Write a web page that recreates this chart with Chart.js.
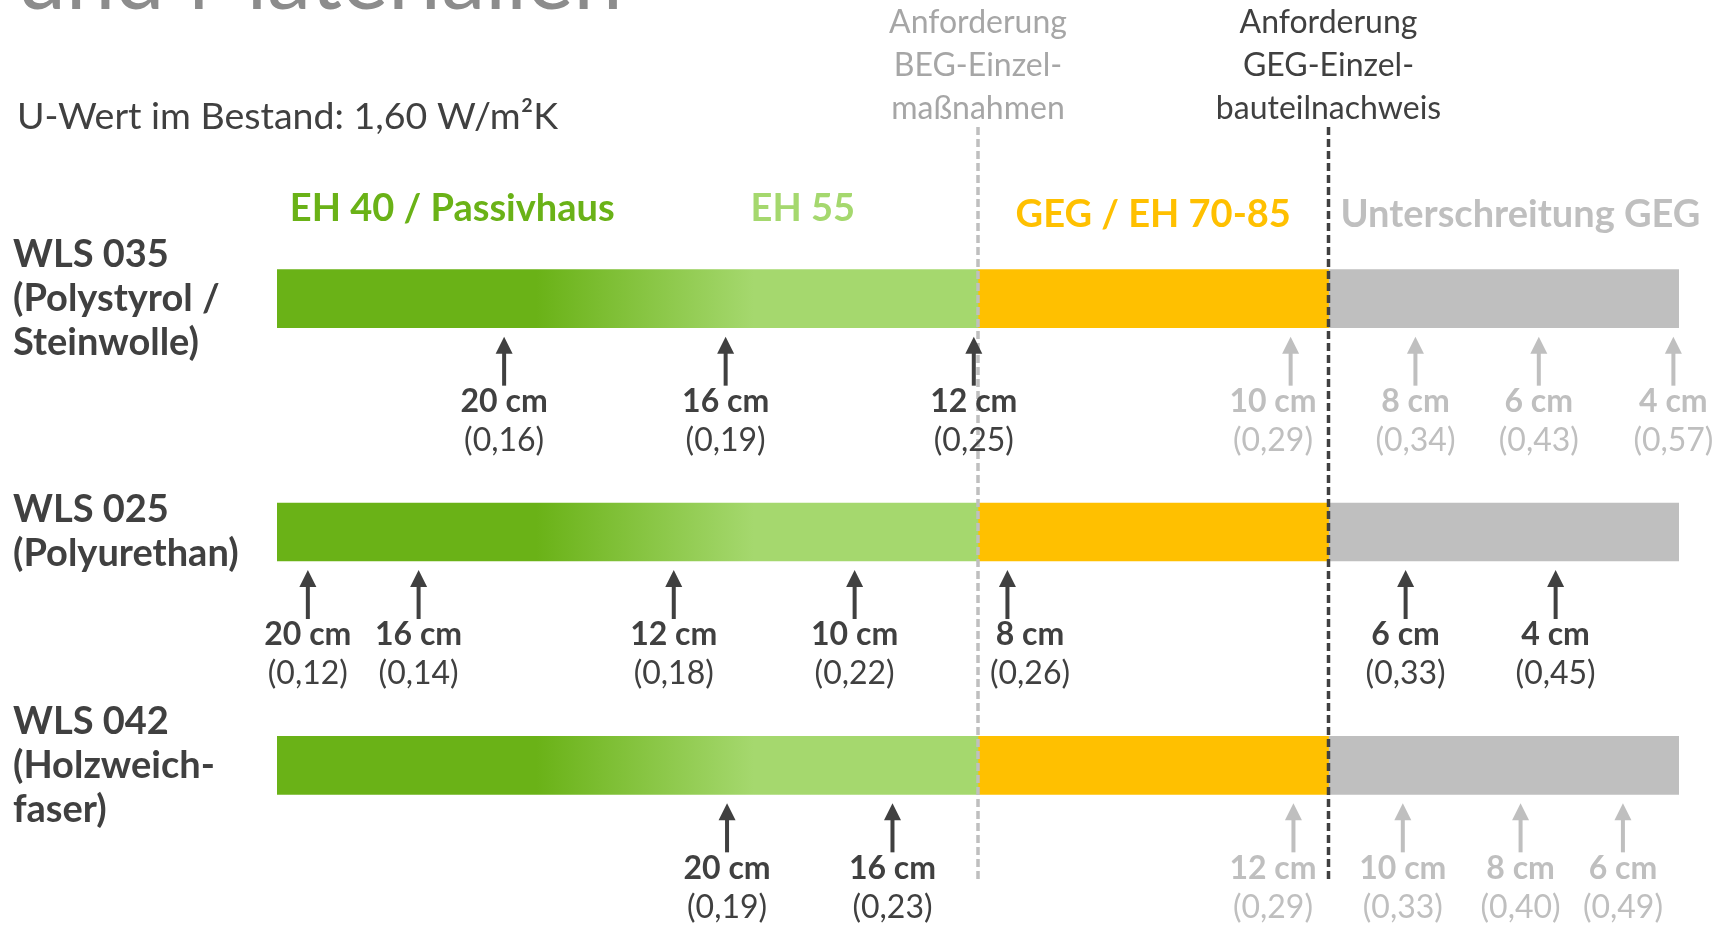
<!DOCTYPE html>
<html lang="de">
<head>
<meta charset="utf-8">
<title>Dämmstärken und Materialien</title>
<script src="https://cdn.jsdelivr.net/npm/chart.js@4"></script>
<style>
    html, body { margin: 0; padding: 0; background: #fff; }
    #wrap { position: relative; width: 1726px; height: 929px; }
</style>
</head>
<body>
<div id="wrap"><canvas id="daemmChart"></canvas></div>
<script>
// Zeilen (Dämmstoffe)
const rowLabels = [
    ['WLS 035', '(Polystyrol /', 'Steinwolle)'],
    ['WLS 025', '(Polyurethan)'],
    ['WLS 042', '(Holzweich-', 'faser)']
];

// Bereiche auf der schematischen Achse (0 - 100)
const zoneEdges = [0, 25, 50, 75, 100];
const zoneNames = ['EH 40 / Passivhaus', 'EH 55', 'GEG / EH 70-85', 'Unterschreitung GEG'];
const begLimit = 50;   // Anforderung BEG-Einzelmaßnahmen
const gegLimit = 75;   // Anforderung GEG-Einzelbauteilnachweis

// WLS 035
const cm035 = [20, 16, 12, 10, 8, 6, 4];
const u035 = [0.16, 0.19, 0.25, 0.29, 0.34, 0.43, 0.57];
const pos035 = [16.2, 32.0, 49.7, 72.3, 81.2, 90.0, 99.6];
const ok035 = [true, true, true, false, false, false, false];

// WLS 025
const cm025 = [20, 16, 12, 10, 8, 6, 4];
const u025 = [0.12, 0.14, 0.18, 0.22, 0.26, 0.33, 0.45];
const pos025 = [2.2, 10.1, 28.3, 41.2, 52.1, 80.5, 91.2];
const ok025 = [true, true, true, true, true, true, true];

// WLS 042
const cm042 = [20, 16, 12, 10, 8, 6];
const u042 = [0.19, 0.23, 0.29, 0.33, 0.40, 0.49];
const pos042 = [32.1, 43.9, 72.5, 80.3, 88.7, 96.0];
const ok042 = [true, true, false, false, false, false];

const markers = [
    { cm: cm035, u: u035, pos: pos035, ok: ok035 },
    { cm: cm025, u: u025, pos: pos025, ok: ok025 },
    { cm: cm042, u: u042, pos: pos042, ok: ok042 }
];

const FONT = 'Lato, "Open Sans", sans-serif';
const DARK = '#404040';
const LIGHT = '#bfbfbf';
const GREEN = '#6ab217';
const GREEN_LIGHT = '#a5d86e';
const ORANGE = '#ffc000';
const zoneColors = [GREEN, GREEN_LIGHT, ORANGE, LIGHT];

function fmtU(v) {
    return '(' + v.toFixed(2).replace('.', ',') + ')';
}

function greenFill(ctx) {
    const chart = ctx.chart;
    if (!chart.chartArea) return GREEN;
    const x = chart.scales.x;
    const g = chart.ctx.createLinearGradient(x.getPixelForValue(zoneEdges[0]), 0, x.getPixelForValue(zoneEdges[2]), 0);
    g.addColorStop(0, GREEN);
    g.addColorStop(0.37, GREEN);
    g.addColorStop(0.68, GREEN_LIGHT);
    g.addColorStop(1, GREEN_LIGHT);
    return g;
}

const overlay = {
    id: 'overlay',
    afterDatasetsDraw(chart) {
        const ctx = chart.ctx;
        const x = chart.scales.x;
        const y = chart.scales.y;
        const area = chart.chartArea;
        const limitPx = [x.getPixelForValue(begLimit), x.getPixelForValue(gegLimit)];
        ctx.save();

        // Titel (abgeschnitten) und U-Wert
        ctx.textAlign = 'left';
        ctx.textBaseline = 'alphabetic';
        ctx.fillStyle = '#8c8c8c';
        ctx.font = '88px ' + FONT;
        ctx.fillText('und Materialien', 17, 9);
        ctx.fillStyle = DARK;
        ctx.font = '37.5px ' + FONT;
        ctx.fillText('U-Wert im Bestand: 1,60 W/m²K', 17, 129);

        // Grenzlinien
        [[limitPx[0], LIGHT], [limitPx[1], DARK]].forEach(([px, col]) => {
            ctx.strokeStyle = col;
            ctx.lineWidth = 3.5;
            ctx.setLineDash([8, 4]);
            ctx.beginPath();
            ctx.moveTo(px, 127);
            ctx.lineTo(px, area.bottom);
            ctx.stroke();
        });
        ctx.setLineDash([]);

        // Anforderungen oben
        ctx.textAlign = 'center';
        ctx.textBaseline = 'middle';
        ctx.font = '32px ' + FONT;
        const heads = [
            [limitPx[0], '#a6a6a6', ['Anforderung', 'BEG-Einzel-', 'maßnahmen']],
            [limitPx[1], DARK, ['Anforderung', 'GEG-Einzel-', 'bauteilnachweis']]
        ];
        heads.forEach(([px, col, lines]) => {
            ctx.fillStyle = col;
            lines.forEach((t, i) => ctx.fillText(t, px, 23 + i * 43));
        });

        // Bereichsnamen
        ctx.font = 'bold 38px ' + FONT;
        zoneNames.forEach((name, i) => {
            ctx.fillStyle = zoneColors[i];
            if (i === zoneNames.length - 1) {
                ctx.textAlign = 'left';
                ctx.fillText(name, x.getPixelForValue(zoneEdges[i]) + 12, 215);
                ctx.textAlign = 'center';
            } else {
                const mid = (zoneEdges[i] + zoneEdges[i + 1]) / 2;
                ctx.fillText(name, x.getPixelForValue(mid), i < 2 ? 209 : 215);
            }
        });

        // Pfeile mit Dämmstärke und U-Wert
        markers.forEach((m, row) => {
            const barBottom = y.getPixelForValue(row) + 29;
            const tip = barBottom + 9;
            const tail = tip + 49;
            m.pos.forEach((p, i) => {
                const px = x.getPixelForValue(p);
                const col = m.ok[i] ? DARK : LIGHT;
                ctx.strokeStyle = col;
                ctx.fillStyle = col;
                ctx.lineWidth = 4;
                ctx.beginPath();
                ctx.moveTo(px, tip + 12);
                ctx.lineTo(px, tail);
                ctx.stroke();
                ctx.beginPath();
                ctx.moveTo(px, tip);
                ctx.lineTo(px - 8.5, tip + 17);
                ctx.lineTo(px + 8.5, tip + 17);
                ctx.closePath();
                ctx.fill();

                const top = m.cm[i] + ' cm';
                const bottom = fmtU(m.u[i]);
                ctx.font = 'bold 32px ' + FONT;
                let w = ctx.measureText(top).width;
                ctx.font = '32px ' + FONT;
                w = Math.max(w, ctx.measureText(bottom).width);
                // Beschriftung neben die Grenzlinie schieben, wenn sie sie schneiden würde
                let cx = px;
                limitPx.forEach(lp => {
                    const d = px - lp;
                    if (Math.abs(d) > 5 && Math.abs(d) < w / 2 + 12) {
                        cx = lp + Math.sign(d) * (w / 2 + 12);
                    }
                });
                ctx.font = 'bold 32px ' + FONT;
                ctx.fillText(top, cx, barBottom + 74);
                ctx.font = '32px ' + FONT;
                ctx.fillText(bottom, cx, barBottom + 113);
            });
        });
        ctx.restore();
    }
};

const ctx = document.getElementById('daemmChart').getContext('2d');
const daemmChart = new Chart(ctx, {
    type: 'bar',
    data: {
        labels: rowLabels,
        datasets: [
            {
                label: 'EH 40 / EH 55',
                data: rowLabels.map(() => [zoneEdges[0], zoneEdges[2]]),
                backgroundColor: greenFill
            },
            {
                label: 'GEG / EH 70-85',
                data: rowLabels.map(() => [zoneEdges[2], zoneEdges[3]]),
                backgroundColor: ORANGE
            },
            {
                label: 'Unterschreitung GEG',
                data: rowLabels.map(() => [zoneEdges[3], zoneEdges[4]]),
                backgroundColor: LIGHT
            }
        ]
    },
    options: {
        indexAxis: 'y',
        responsive: true,
        maintainAspectRatio: false,
        animation: false,
        layout: {
            padding: { left: 13, right: 47, top: 182, bottom: 47 }
        },
        datasets: {
            bar: { grouped: false, barThickness: 58, borderWidth: 0 }
        },
        scales: {
            x: {
                type: 'linear',
                min: 0,
                max: 100,
                display: false
            },
            y: {
                type: 'category',
                offset: true,
                grid: { display: false },
                border: { display: false },
                ticks: {
                    crossAlign: 'far',
                    padding: 0,
                    color: DARK,
                    font: { family: FONT, size: 38, weight: 'bold', lineHeight: 1.16 }
                },
                afterFit(scale) {
                    scale.width = 264;
                    scale.paddingTop = 0;
                    scale.paddingBottom = 0;
                }
            }
        },
        plugins: {
            legend: { display: false },
            tooltip: { enabled: false }
        }
    },
    plugins: [overlay]
});
</script>
</body>
</html>
